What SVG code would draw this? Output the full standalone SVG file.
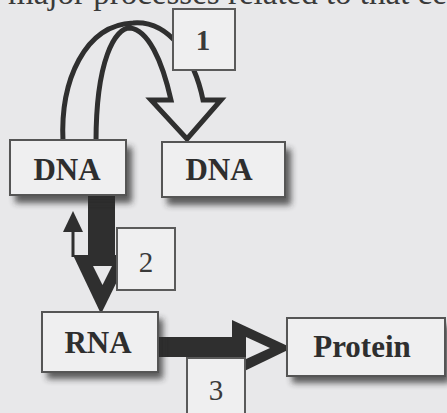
<svg xmlns="http://www.w3.org/2000/svg" width="447" height="413" viewBox="0 0 447 413">
<defs>
<filter id="blur" x="-20%" y="-20%" width="140%" height="150%"><feGaussianBlur stdDeviation="3"/></filter>
<style>
.bg{fill:#e8e8ea}
.node{fill:#efeff0;stroke:#555;stroke-width:2}
.shadow{fill:#2a2a2a;opacity:.75;filter:url(#blur)}
.lbl{fill:#efeff0;stroke:#5a5a5a;stroke-width:2}
.t{font-family:"Liberation Serif","Times New Roman",serif;font-weight:bold;font-size:31px;fill:#2e2e2e;text-anchor:middle}
.n{font-family:"Liberation Serif","Times New Roman",serif;font-size:29px;fill:#3a3a3a;text-anchor:middle}
.dark{fill:#2f2f2f}
.hollow{fill:#e8e8ea}
</style>
</defs>
<rect class="bg" x="0" y="0" width="447" height="413"/>
<text x="8" y="4" font-family="Liberation Serif, serif" font-size="33" fill="#3a3a3a">major processes related to that ce</text>

<g id="connectors">
  <path id="arrow1" d="M63,142 C60,80 85,25 133,23 C170,20 195,60 203,100 L221,100 L187,139 L151,100 L171,100 C162,60 148,30 130,28 C115,28 96,60 96,142 Z" fill="#e8e8ea" stroke="#2f2f2f" stroke-width="5" stroke-linejoin="miter"/>
  <g id="arrow2">
    <rect class="dark" x="88" y="195" width="27" height="62"/>
    <polygon class="dark" points="73,255 130,255 101,314"/>
    <polygon class="hollow" points="93,266 112,266 102.5,285"/>
  </g>
  <g id="arrow-up">
    <line x1="73" y1="257" x2="73" y2="228" stroke="#2f2f2f" stroke-width="3"/>
    <polygon class="dark" points="63,232 83,232 73,211"/>
  </g>
  <g id="arrow3">
    <rect class="dark" x="156" y="337" width="82" height="20"/>
    <polygon class="dark" points="232,320 292,348 232,377"/>
    <polygon class="hollow" points="246,337 270,348 246,359"/>
  </g>
</g>

<g id="dna1">
  <rect class="shadow" x="15" y="147" width="117" height="56"/>
  <rect class="node" x="10" y="140" width="116" height="55"/>
  <text class="t" x="67" y="180">DNA</text>
</g>
<g id="dna2">
  <rect class="shadow" x="167" y="149" width="124" height="56"/>
  <rect class="node" x="162" y="142" width="123" height="55"/>
  <text class="t" x="219" y="180">DNA</text>
</g>
<g id="rna">
  <rect class="shadow" x="47" y="319" width="116" height="60"/>
  <rect class="node" x="42" y="312" width="116" height="60"/>
  <text class="t" x="98" y="353">RNA</text>
</g>
<g id="protein">
  <rect class="shadow" x="292" y="325" width="158" height="58"/>
  <rect class="node" x="287" y="318" width="158" height="58"/>
  <text class="t" x="362" y="357">Protein</text>
</g>

<g id="label1">
  <rect class="lbl" x="173" y="9" width="62" height="61"/>
  <text class="n" x="203" y="50" font-weight="bold">1</text>
</g>
<g id="label2">
  <rect class="lbl" x="117" y="228" width="58" height="62"/>
  <text class="n" x="146" y="272">2</text>
</g>
<g id="label3">
  <rect class="lbl" x="187" y="358" width="58" height="60"/>
  <text class="n" x="216" y="400">3</text>
</g>
</svg>
